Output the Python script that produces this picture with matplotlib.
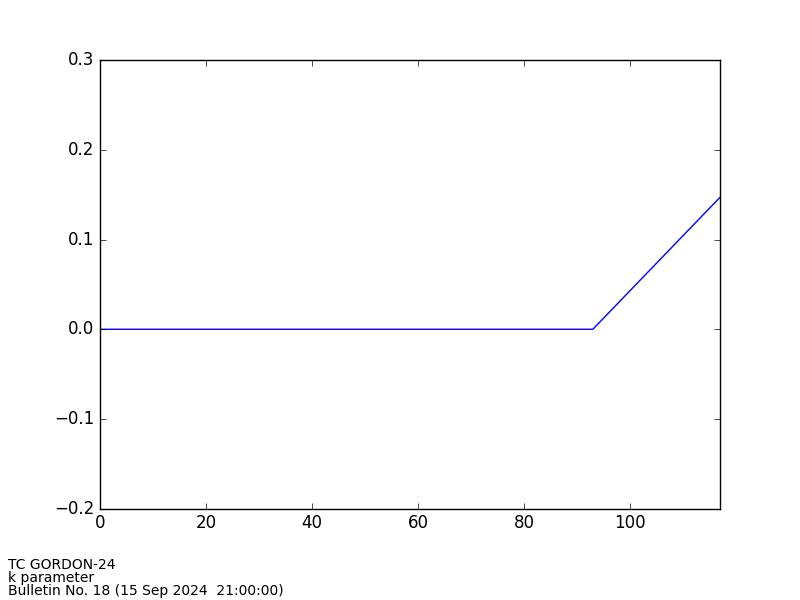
import matplotlib
matplotlib.use("Agg")
import matplotlib.pyplot as plt

plt.style.use("classic")

# forecast hour vs k parameter
hours = [0, 93, 117]
k_param = [0.0, 0.0, 0.147]

fig = plt.figure(figsize=(8, 6), dpi=100, facecolor="white")
ax = fig.add_axes([0.125, 0.152, 0.775, 0.748])
ax.plot(hours, k_param, color="blue", linewidth=1)
ax.set_xlim(0, 117)
ax.set_ylim(-0.2, 0.3)
ax.set_xticks([0, 20, 40, 60, 80, 100])
ax.set_yticks([-0.2, -0.1, 0.0, 0.1, 0.2, 0.3])

fig.text(0.01, 0.003, "TC GORDON-24\nk parameter\nBulletin No. 18 (15 Sep 2024  21:00:00)",
         fontsize=10, ha="left", va="bottom", linespacing=0.9)

fig.savefig("out.png", dpi=100, facecolor="white")
